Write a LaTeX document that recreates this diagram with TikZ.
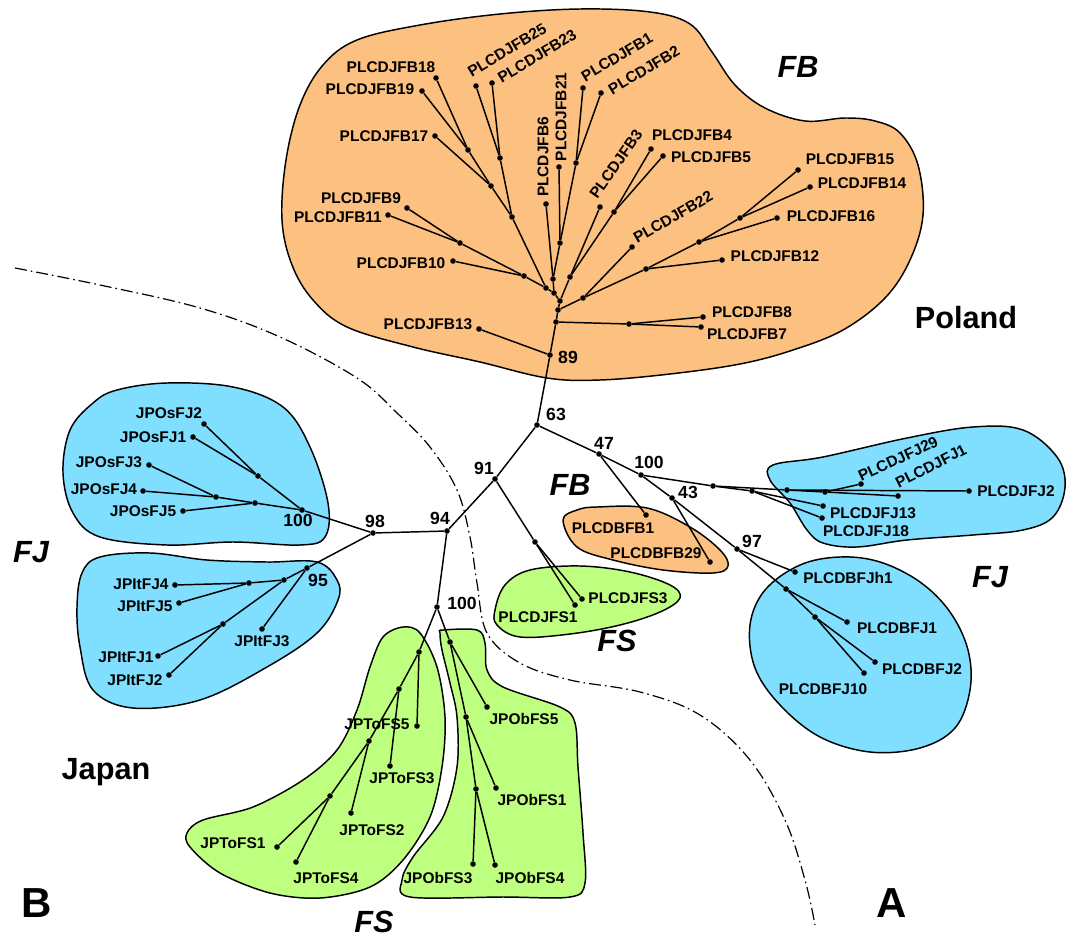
\documentclass[tikz,border=0pt]{standalone}
\usepackage{fontspec}
\setmainfont{Liberation Sans}
\definecolor{orfill}{RGB}{252,192,128}
\definecolor{blfill}{RGB}{128,222,255}
\definecolor{grfill}{RGB}{191,255,128}
\tikzset{
  edge/.style={line width=1.1pt},
  dt/.style={circle,fill=black,inner sep=0pt,minimum size=4.2pt},
  lab/.style={font=\fontsize{11.6}{13}\selectfont\bfseries,inner sep=0pt},
  bsv/.style={font=\fontsize{13.2}{15}\selectfont\bfseries,inner sep=0pt},
  big/.style={font=\fontsize{23}{26}\selectfont\bfseries,inner sep=0pt},
  bigi/.style={font=\fontsize{23}{26}\selectfont\bfseries\itshape,inner sep=0pt},
  hugel/.style={font=\fontsize{31.5}{34}\selectfont\bfseries,inner sep=0pt},
  blob/.style={draw=black,line width=1.1pt},
  border/.style={line width=0.9pt,dash pattern=on 9pt off 3pt on 1.2pt off 3pt},
}
\begin{document}
\begin{tikzpicture}[x=0.75pt,y=-0.75pt]
\useasboundingbox (0,0) rectangle (1073,941);
% ---------- blobs ----------
\draw[blob,fill=orfill] plot[smooth cycle,tension=0.6] coordinates {
 (357,40) (420,25) (500,14) (580,9) (650,12) (690,24) (712,52) (735,85) (765,108)
 (805,121) (845,118) (875,121) (900,133) (918,165) (923,215) (910,260) (885,298)
 (843,330) (793,350) (740,364) (670,374) (600,380) (547,378) (480,362) (413,347)
 (347,327) (313,300) (292,265) (282,220) (286,160) (300,105) (323,65)};
\draw[blob,fill=blfill] plot[smooth cycle,tension=0.6] coordinates {
 (93,403) (117,390) (167,383) (233,387) (283,407) (310,447) (328,503) (325,537)
 (300,545) (233,542) (167,545) (100,537) (73,513) (63,473) (70,430)};
\draw[blob,fill=blfill] plot[smooth cycle,tension=0.6] coordinates {
 (100,557) (150,553) (207,560) (267,562) (317,562) (337,580) (338,600) (317,633)
 (267,667) (200,700) (133,708) (93,690) (80,647) (77,607) (82,573)};
\draw[blob,fill=blfill] plot[smooth cycle,tension=0.6] coordinates {
 (773,465) (823,457) (907,438) (973,427) (1023,430) (1057,457) (1065,487) (1053,517)
 (1023,530) (973,535) (907,540) (857,547) (823,543) (807,530) (790,503) (770,480)};
\draw[blob,fill=blfill] plot[smooth cycle,tension=0.6] coordinates {
 (750,625) (765,590) (800,565) (840,557) (880,562) (920,582) (950,612) (968,650)
 (970,690) (955,728) (920,748) (870,752) (820,737) (780,705) (755,668)};
\draw[blob,fill=orfill] plot[smooth cycle,tension=0.6] coordinates {
 (563,520) (577,510) (597,507) (647,508) (690,527) (720,550) (728,566) (713,573)
 (663,570) (613,560) (577,547)};
\draw[blob,fill=grfill] plot[smooth cycle,tension=0.6] coordinates {
 (495,610) (505,585) (530,570) (580,566) (630,572) (670,585) (680,598) (660,612)
 (620,625) (570,634) (520,637) (497,625)};
\draw[blob,fill=grfill] plot[smooth cycle,tension=0.55] coordinates {
 (403,627) (420,633) (437,667) (445,717) (442,767) (430,817) (403,860) (370,887)
 (320,898) (270,893) (220,873) (190,847) (187,833) (203,820) (253,807) (303,780)
 (337,750) (357,710) (370,667) (383,637)};
\draw[blob,fill=grfill] plot[smooth cycle,tension=0.55] coordinates {
 (443,630) (477,630) (485,643) (487,670) (503,687) (560,707) (575,723) (578,767)
 (583,833) (585,883) (570,897) (503,897) (410,897) (402,880) (413,857) (443,817)
 (457,767) (457,717) (450,683) (442,650) (440,633)};
% ---------- border line ----------
\draw[border] plot[smooth,tension=0.6] coordinates {
 (15,268) (100,285) (200,308) (280,337) (357,378) (397,413) (430,447) (457,490)
 (470,537) (477,583) (487,633) (520,663) (570,680) (640,692) (700,715) (750,760)
 (785,820) (805,880) (815,925)};
% ---------- tree vertices ----------
\foreach \n/\x/\y in {
 n89/550/355, fb13/479/329, f1/556/322, f78/629/324, fb8/703/317, fb7/701/327,
 f2/558/310, f3/583/298, fb22/632/247, f4/646/269, fb12/722/260, f5/699/242,
 fb16/777/218, f6/740/218, fb15/798/170, fb14/810/187, f7/560/301, f8/570/277,
 fb3/600/207, f9/614/212, fb4/651/149, fb5/663/156, f10/554/293, f11/553/279,
 fb6/546/204, f12/560/243, fb21/559/167, f13/576/163, fb1/583/88, fb2/601/93,
 f14/546/288, f15/524/276, fb10/453/261, f16/460/243, fb9/407/208, fb11/388/215,
 f17/512/217, f18/491/186, fb17/435/136, f19/468/150, fb18/436/78, fb19/422/91,
 f20/500/158, fb25/476/86, fb23/492/83,
 n63/537/425, n47/599/454, bfb1/646/515, n100a/641/475, c1/713/486, c2/752/491,
 fj13/823/506, fj18/822/518, c3/787/490, fj2/969/491, c4/825/492, fj29/861/484,
 fj1/898/496, n43/672/498, bfb29/710/562, n97/737/549, bfjh1/795/572, c5/786/589,
 bfj1/847/622, c6/815/617, bfj2/875/662, bfj10/864/673,
 n91/495/479, c7/535/542, jfs3/582/599, jfs1/575/605, n94/447/531, n98/373/533,
 n100b/302/510, l1/258/476, os2/204/424, os1/193/437, l2/255/503, os5/183/511,
 l3/216/497, os3/149/465, os4/143/491, n95/307/568, l4/284/580, l5/249/583,
 it4/175/585, it5/179/603, l6/223/624, it1/158/656, it2/169/675, it3/262/629,
 n100c/437/607, b1/419/652, to5/417/726, b2/399/689, to3/390/766, b3/369/741,
 to2/351/813, b4/330/796, to1/277/847, to4/296/862, b5/450/642, ob5/487/707,
 b6/466/717, ob1/496/788, b7/476/789, ob3/473/864, ob4/495/865}
 {\node[dt] (\n) at (\x,\y) {};}
% ---------- branches ----------
\foreach \a/\b in {
 n89/fb13, n89/f1, f1/f78, f78/fb8, f78/fb7, f1/f2, f2/f3, f3/fb22, f3/f4, f4/fb12,
 f4/f5, f5/fb16, f5/f6, f6/fb15, f6/fb14, f2/f7, f7/f8, f8/fb3, f8/f9, f9/fb4, f9/fb5,
 f7/f10, f10/f11, f11/fb6, f11/f12, f12/fb21, f12/f13, f13/fb1, f13/fb2, f10/f14,
 f14/f15, f15/fb10, f15/f16, f16/fb9, f16/fb11, f14/f17, f17/f18, f18/fb17, f18/f19,
 f19/fb18, f19/fb19, f17/f20, f20/fb25, f20/fb23,
 n89/n63, n63/n47, n47/bfb1, n47/n100a, n100a/c1, c1/c2, c2/fj13, c2/fj18, c1/c3,
 c3/fj2, c3/c4, c4/fj29, c4/fj1, n100a/n43, n43/bfb29, n43/n97, n97/bfjh1, n97/c5,
 c5/bfj1, c5/c6, c6/bfj2, c6/bfj10,
 n63/n91, n91/c7, c7/jfs3, c7/jfs1, n91/n94, n94/n98, n98/n100b, n100b/l1, l1/os2,
 l1/os1, n100b/l2, l2/os5, l2/l3, l3/os3, l3/os4, n98/n95, n95/l4, l4/l5, l5/it4,
 l5/it5, l4/l6, l6/it1, l6/it2, n95/it3,
 n94/n100c, n100c/b1, b1/to5, b1/b2, b2/to3, b2/b3, b3/to2, b3/b4, b4/to1, b4/to4,
 n100c/b5, b5/ob5, b5/b6, b6/ob1, b6/b7, b7/ob3, b7/ob4}
 {\draw[edge] (\a) -- (\b);}
% ---------- FB labels ----------
\node[lab] (t18) at (391,67) {PLCDJFB18};
\node[lab] (t19) at (370,89) {PLCDJFB19};
\node[lab] (t17) at (384,136) {PLCDJFB17};
\node[lab] (t9) at (361,198) {PLCDJFB9};
\node[lab] (t11) at (338,217) {PLCDJFB11};
\node[lab] (t10) at (401,263) {PLCDJFB10};
\node[lab] (t13) at (428,324) {PLCDJFB13};
\node[lab,rotate=90] (t6) at (543,157) {PLCDJFB6};
\node[lab,rotate=90] (t21) at (561,117) {PLCDJFB21};
\node[lab,rotate=31] (t25) at (507,50) {PLCDJFB25};
\node[lab,rotate=31] (t23) at (537,56) {PLCDJFB23};
\node[lab,rotate=31] (t1) at (617,57) {PLCDJFB1};
\node[lab,rotate=31] (t2) at (644,70) {PLCDJFB2};
\node[lab,rotate=55] (t3) at (616,164) {PLCDJFB3};
\node[lab] (t4) at (692,135) {PLCDJFB4};
\node[lab] (t5) at (711,157) {PLCDJFB5};
\node[lab,rotate=30] (t22) at (673,217) {PLCDJFB22};
\node[lab] (t15) at (850,159) {PLCDJFB15};
\node[lab] (t14) at (862,183) {PLCDJFB14};
\node[lab] (t16) at (831,216) {PLCDJFB16};
\node[lab] (t12) at (775,256) {PLCDJFB12};
\node[lab] (t8) at (752,312) {PLCDJFB8};
\node[lab] (t7) at (747,334) {PLCDJFB7};
% ---------- other labels ----------
\node[lab] (tb1) at (613,528) {PLCDBFB1};
\node[lab] (tb29) at (656,553) {PLCDBFB29};
\node[lab] (tjs3) at (628,598) {PLCDJFS3};
\node[lab] (tjs1) at (538,617) {PLCDJFS1};
\node[lab,rotate=25] (tj29) at (898,459) {PLCDJFJ29};
\node[lab,rotate=27] (tj1) at (931,466) {PLCDJFJ1};
\node[lab] (tj2) at (1016,491) {PLCDJFJ2};
\node[lab] (tj13) at (873,513) {PLCDJFJ13};
\node[lab] (tj18) at (866,531) {PLCDJFJ18};
\node[lab] (tbh1) at (848,578) {PLCDBFJh1};
\node[lab] (tbj1) at (897,628) {PLCDBFJ1};
\node[lab] (tbj2) at (922,669) {PLCDBFJ2};
\node[lab] (tbj10) at (823,689) {PLCDBFJ10};
\node[lab] (tos2) at (169,413) {JPOsFJ2};
\node[lab] (tos1) at (153,437) {JPOsFJ1};
\node[lab] (tos3) at (109,462) {JPOsFJ3};
\node[lab] (tos4) at (104,489) {JPOsFJ4};
\node[lab] (tos5) at (143,511) {JPOsFJ5};
\node[lab] (tit4) at (141,584) {JPItFJ4};
\node[lab] (tit5) at (145,606) {JPItFJ5};
\node[lab] (tit1) at (126,657) {JPItFJ1};
\node[lab] (tit2) at (135,680) {JPItFJ2};
\node[lab] (tit3) at (262,641) {JPItFJ3};
\node[lab] (tto5) at (377,724) {JPToFS5};
\node[lab] (tto3) at (402,778) {JPToFS3};
\node[lab] (tto2) at (372,830) {JPToFS2};
\node[lab] (tto1) at (233,843) {JPToFS1};
\node[lab] (tto4) at (326,878) {JPToFS4};
\node[lab] (tob5) at (524,719) {JPObFS5};
\node[lab] (tob1) at (532,800) {JPObFS1};
\node[lab] (tob3) at (438,878) {JPObFS3};
\node[lab] (tob4) at (530,878) {JPObFS4};
% ---------- support values ----------
\node[bsv] (v89) at (568,357) {89};
\node[bsv] (v63) at (556,414) {63};
\node[bsv] (v47) at (604,443) {47};
\node[bsv] (v100a) at (649,462) {100};
\node[bsv] (v43) at (688,492) {43};
\node[bsv] (v97) at (752,541) {97};
\node[bsv] (v91) at (484,468) {91};
\node[bsv] (v94) at (440,518) {94};
\node[bsv] (v98) at (375,521) {98};
\node[bsv] (v100b) at (298,520) {100};
\node[bsv] (v95) at (318,580) {95};
\node[bsv] (v100c) at (462,603) {100};
% ---------- group names ----------
\node[bigi] (gfb1) at (798,67) {FB};
\node[bigi] (gfb2) at (570,485) {FB};
\node[bigi] (gfs1) at (617,641) {FS};
\node[bigi] (gfs2) at (374,922) {FS};
\node[bigi] (gfj1) at (990,577) {FJ};
\node[bigi] (gfj2) at (31,552) {FJ};
\node[big] (poland) at (966,318) {Poland};
\node[big] (japan) at (106,772) {Japan};
\node[hugel] (pa) at (892,903) {A};
\node[hugel] (pb) at (37,903) {B};
\end{tikzpicture}
\end{document}
